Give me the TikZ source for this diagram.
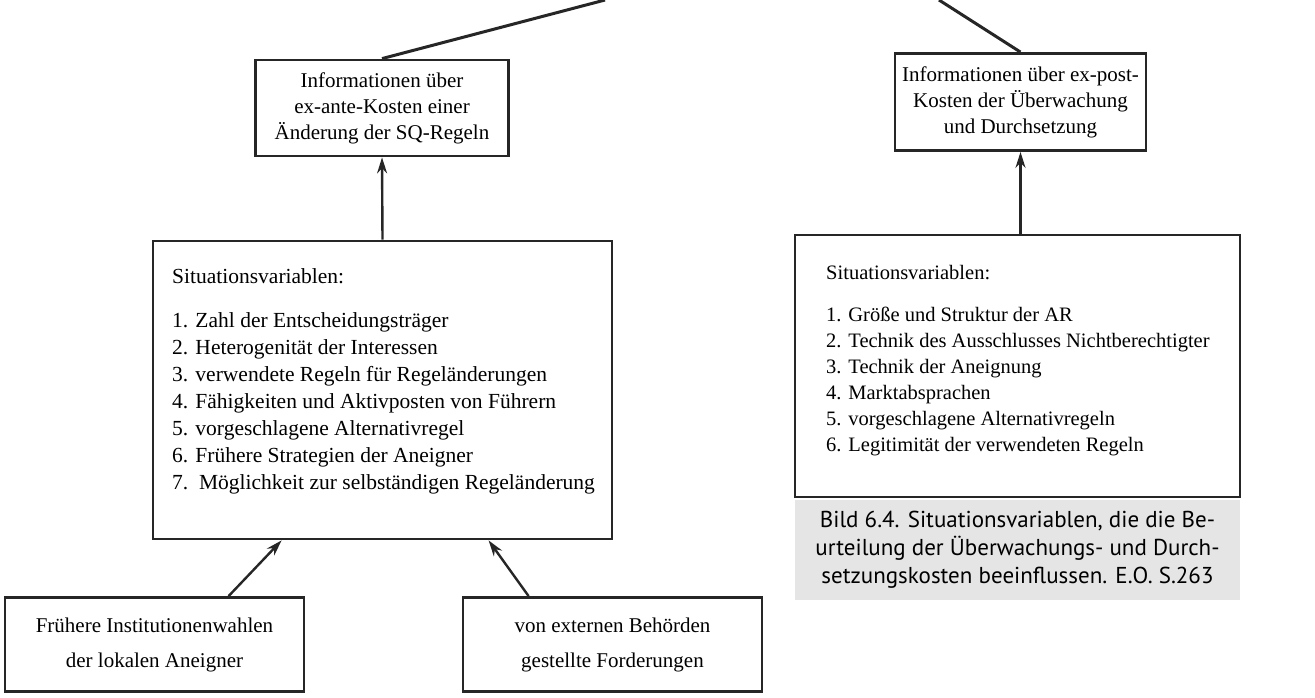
\documentclass[tikz,border=0pt]{standalone}
\usepackage{fontspec}
\setmainfont{Liberation Serif}
\newfontfamily\capfont{PT Sans}
\usetikzlibrary{arrows.meta,calc}
\begin{document}
\begin{tikzpicture}[x=1pt,y=-1pt,
  boxline/.style={draw=black!85,line width=2.8pt},
  infobox/.style={boxline,inner sep=0pt,align=center,font=\fontsize{21}{26}\selectfont},
  listtext/.style={anchor=north west,inner sep=0pt,align=left,font=\fontsize{21.5}{27}\selectfont},
  arr/.style={line width=2.4pt,draw=black!85,-{Stealth[length=16pt,width=10pt]}},
  topline/.style={line width=3pt,draw=black!85}]
\useasboundingbox (0,0) rectangle (1315,697);
% top info boxes
\node[infobox,minimum width=253pt,minimum height=96pt] (li) at (382,108) {Informationen über\\ex-ante-Kosten einer\\Änderung der SQ-Regeln};
\node[infobox,minimum width=251pt,minimum height=97pt] (ri) at (1020.5,102) {Informationen über ex-post-\\Kosten der Überwachung\\und Durchsetzung};
\coordinate (tl) at (605,0);
\coordinate (tr) at (939,0);
\draw[topline] (tl) -- (li.north);
\draw[topline] (tr) -- (ri.north);
% big boxes
\node[boxline,minimum width=459pt,minimum height=298pt] (lb) at (382.5,390) {};
\node[listtext] (lbt) at (172,268) {Situationsvariablen:\\[17pt]
1. Zahl der Entscheidungsträger\\
2. Heterogenität der Interessen\\
3. verwendete Regeln für Regeländerungen\\
4. Fähigkeiten und Aktivposten von Führern\\
5. vorgeschlagene Alternativregel\\
6. Frühere Strategien der Aneigner\\
7.\ \ Möglichkeit zur selbständigen Regeländerung};
\node[boxline,minimum width=445pt,minimum height=262pt] (rb) at (1017.5,366) {};
\node[listtext,font=\fontsize{20.5}{26}\selectfont] (rbt) at (826,265) {Situationsvariablen:\\[16pt]
1. Größe und Struktur der AR\\
2. Technik des Ausschlusses Nichtberechtigter\\
3. Technik der Aneignung\\
4. Marktabsprachen\\
5. vorgeschlagene Alternativregeln\\
6. Legitimität der verwendeten Regeln};
% caption
\node[fill=black!10,minimum width=445pt,minimum height=100pt,inner sep=0pt,align=center,font=\capfont\fontsize{23}{28}\selectfont] (cap) at (1017.5,550) {Bild 6.4. Situationsvariablen, die die Be-\\urteilung der Überwachungs- und Durch-\\setzungskosten beeinflussen. E.O. S.263};
% bottom boxes
\node[infobox,minimum width=299pt,minimum height=94pt,font=\fontsize{21}{35}\selectfont] (bl) at (154.5,644.5) {Frühere Institutionenwahlen\\der lokalen Aneigner};
\node[infobox,minimum width=299pt,minimum height=94pt,font=\fontsize{21}{35}\selectfont] (br) at (612.5,644.5) {von externen Behörden\\gestellte Forderungen};
% arrows
\draw[arr] (lb.north) -- (li.south);
\draw[arr] (rb.north -| ri.south) -- (ri.south);
\draw[arr] ($(bl.north west)+(225,0)$) -- ($(lb.south west)+(130,0)$);
\draw[arr] ($(br.north west)+(67,0)$) -- ($(lb.south west)+(337,0)$);
\end{tikzpicture}
\end{document}
